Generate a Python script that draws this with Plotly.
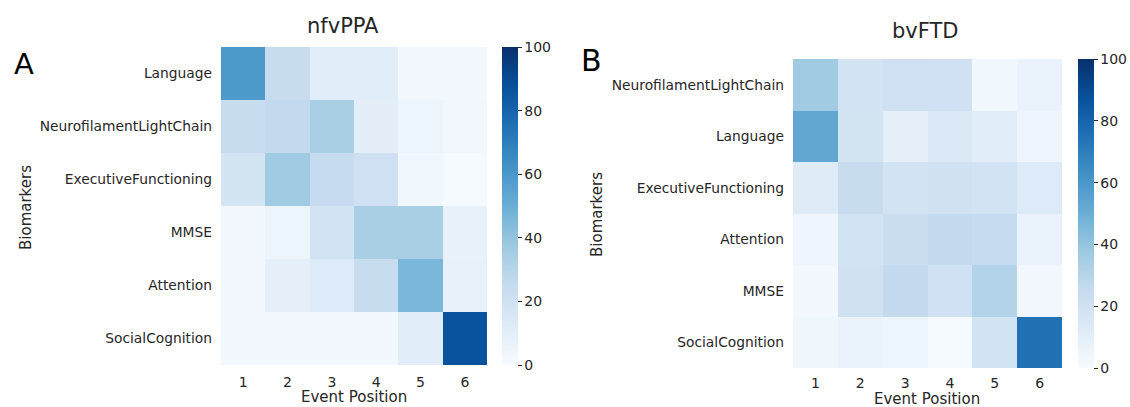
import plotly.graph_objects as go
import plotly.colors as pc

W, H = 1130, 407

positions = [1, 2, 3, 4, 5, 6]

# nfvPPA (panel A), rows top to bottom
nfv_biomarkers = ["Language", "NeurofilamentLightChain", "ExecutiveFunctioning",
                  "MMSE", "Attention", "SocialCognition"]
nfv_language = [59, 24, 11, 11, 2, 2]
nfv_nfl = [24.5, 26, 34, 10, 5, 3]
nfv_exec = [18, 37, 25, 21, 3.5, 1]
nfv_mmse = [2, 5, 19, 34, 34, 7]
nfv_attention = [2, 9.5, 13, 24, 46, 7.5]
nfv_social = [2, 2, 2, 2, 11, 87]

# bvFTD (panel B), rows top to bottom
bv_biomarkers = ["NeurofilamentLightChain", "Language", "ExecutiveFunctioning",
                 "Attention", "MMSE", "SocialCognition"]
bv_nfl = [37, 19, 21, 20.5, 3.5, 6.5]
bv_language = [53, 18, 9, 14, 11, 4.5]
bv_exec = [12, 24, 19, 20, 19, 13]
bv_attention = [4.5, 19, 22.5, 26, 25, 6.5]
bv_mmse = [2, 20, 25.5, 20.5, 31, 3]
bv_social = [4, 6.5, 5, 1, 18.5, 75]

cbar_ticks = [0, 20, 40, 60, 80, 100]

blues = pc.sequential.Blues
scale = [[i / (len(blues) - 1), c] for i, c in enumerate(blues)]

FONT = "DejaVu Sans"
TXT = "#262626"


def px(x):
    return x / W


def py(y):
    return 1 - y / H


fig = go.Figure()

panels = [
    dict(z=[nfv_language, nfv_nfl, nfv_exec, nfv_mmse, nfv_attention, nfv_social],
         y=nfv_biomarkers, xa="x", ya="y", box=(221, 487, 47, 365), cbx=502, xs=7),
    dict(z=[bv_nfl, bv_language, bv_exec, bv_attention, bv_mmse, bv_social],
         y=bv_biomarkers, xa="x2", ya="y2", box=(793, 1062, 59, 368), cbx=1078, xs=5),
]

for p in panels:
    x0, x1, y0, y1 = p["box"]
    fig.add_trace(go.Heatmap(
        z=p["z"], x=positions, y=p["y"], xaxis=p["xa"], yaxis=p["ya"],
        colorscale=scale, zmin=0, zmax=100,
        colorbar=dict(
            x=px(p["cbx"]), xanchor="left", xpad=0,
            y=py((y0 + y1) / 2), yanchor="middle", ypad=0,
            len=y1 - y0, lenmode="pixels", thickness=16, thicknessmode="pixels",
            outlinewidth=0, ticks="outside", ticklen=4, tickwidth=1,
            tickcolor=TXT, tickvals=cbar_ticks,
            tickfont=dict(family=FONT, size=14, color=TXT),
        ),
    ))

layout = dict(
    width=W, height=H, margin=dict(l=0, r=0, t=0, b=0),
    paper_bgcolor="white", plot_bgcolor="white", showlegend=False,
    font=dict(family=FONT, color=TXT),
)
for i, p in enumerate(panels):
    x0, x1, y0, y1 = p["box"]
    sx = "" if i == 0 else "2"
    layout["xaxis" + sx] = dict(
        domain=[px(x0), px(x1)], anchor="y" + sx, range=[0.5, 6.5],
        tickvals=positions, ticktext=[str(v) for v in positions],
        showgrid=False, zeroline=False, showline=False, ticks="",
        ticklabelstandoff=p["xs"], tickfont=dict(family=FONT, size=14, color=TXT),
    )
    layout["yaxis" + sx] = dict(
        domain=[py(y1), py(y0)], anchor="x" + sx, autorange="reversed",
        showgrid=False, zeroline=False, showline=False, ticks="",
        ticklabelstandoff=8, tickfont=dict(family=FONT, size=13.8, color=TXT),
    )
fig.update_layout(**layout)

ann = [
    # titles (y = baseline + descent)
    dict(x=px(343), y=py(39), text="nfvPPA", size=21, ya="bottom", color=TXT),
    dict(x=px(925), y=py(44), text="bvFTD", size=21, ya="bottom", color=TXT),
    # panel letters
    dict(x=px(24), y=py(82), text="A", size=29, ya="bottom", color="#000000"),
    dict(x=px(591), y=py(79), text="B", size=30, ya="bottom", color="#000000"),
    # x axis titles
    dict(x=px(354), y=py(397), text="Event Position", size=15, ya="middle", color=TXT),
    dict(x=px(927), y=py(399), text="Event Position", size=15, ya="middle", color=TXT),
]
for a in ann:
    fig.add_annotation(
        x=a["x"], y=a["y"], xref="paper", yref="paper", text=a["text"],
        showarrow=False, xanchor="center", yanchor=a["ya"],
        font=dict(family=FONT, size=a["size"], color=a["color"]),
        borderpad=0,
    )
for xc, yc in [(26, 208), (597, 215)]:
    fig.add_annotation(
        x=px(xc), y=py(yc), xref="paper", yref="paper", text="Biomarkers",
        showarrow=False, textangle=-90, xanchor="center", yanchor="middle",
        font=dict(family=FONT, size=15, color=TXT), borderpad=0,
    )

fig.write_html("out.html")
